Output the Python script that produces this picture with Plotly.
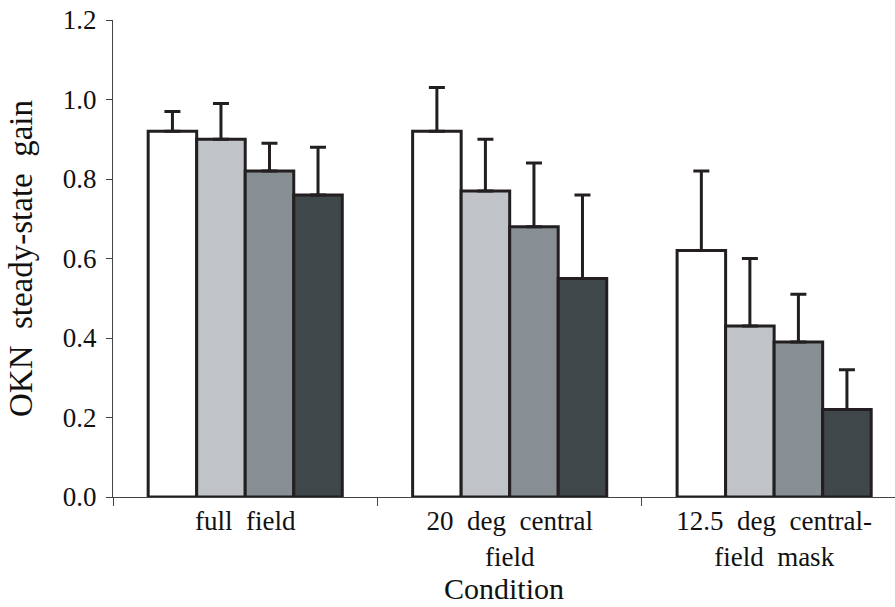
import plotly.graph_objects as go

# Conditions on the x axis (line breaks as printed under each group)
conditions = ["full  field", "20  deg  central<br>field", "12.5  deg  central-<br>field  mask"]

# Four stimulus series per condition: mean gain and upper error
series_names = ["Series 1", "Series 2", "Series 3", "Series 4"]
gain_s1 = [0.92, 0.92, 0.62]
gain_s2 = [0.90, 0.77, 0.43]
gain_s3 = [0.82, 0.68, 0.39]
gain_s4 = [0.76, 0.55, 0.22]
err_s1 = [0.05, 0.11, 0.20]
err_s2 = [0.09, 0.13, 0.17]
err_s3 = [0.07, 0.16, 0.12]
err_s4 = [0.12, 0.21, 0.10]

y_ticks = [0.0, 0.2, 0.4, 0.6, 0.8, 1.0, 1.2]
y_tick_labels = ["0.0", "0.2", "0.4", "0.6", "0.8", "1.0", "1.2"]

fills = ["#ffffff", "#c0c4c9", "#878e94", "#3f474a"]
ink = "#231f20"
font_family = "Times New Roman"

gains = [gain_s1, gain_s2, gain_s3, gain_s4]
errs = [err_s1, err_s2, err_s3, err_s4]

fig = go.Figure()
for name, g, e, c in zip(series_names, gains, errs, fills):
    fig.add_trace(go.Bar(
        name=name,
        x=conditions,
        y=g,
        marker=dict(color=c, line=dict(color=ink, width=3)),
        error_y=dict(type="data", array=e, arrayminus=[0] * len(e),
                     symmetric=False, color=ink, thickness=3, width=8),
    ))

fig.update_layout(
    width=895, height=607,
    margin=dict(l=113, r=0, t=20, b=110),
    paper_bgcolor="white", plot_bgcolor="white",
    barmode="group", bargap=0.266, bargroupgap=0,
    showlegend=False,
    font=dict(family=font_family, color="#111111"),
)

fig.update_xaxes(
    type="category",
    range=[-0.5, 2.457],
    tickson="boundaries",
    ticks="outside", ticklen=8, tickcolor="#444444", tickwidth=1,
    showline=True, linecolor="#444444", linewidth=1,
    showgrid=False, zeroline=False,
    tickfont=dict(size=27, family=font_family, color="#111111"),
    title=dict(text="Condition", standoff=0,
               font=dict(size=30, family=font_family, color="#111111")),
)

fig.update_yaxes(
    range=[0, 1.2],
    tickvals=y_ticks, ticktext=y_tick_labels,
    ticks="outside", ticklen=6, tickcolor="#444444", tickwidth=1,
    ticklabelstandoff=4,
    showline=True, linecolor="#444444", linewidth=1,
    showgrid=False, zeroline=False,
    tickfont=dict(size=27, family=font_family, color="#111111"),
    title=dict(text="OKN  steady-state  gain", standoff=20,
               font=dict(size=33, family=font_family, color="#111111")),
)

fig.write_html("out.html")
